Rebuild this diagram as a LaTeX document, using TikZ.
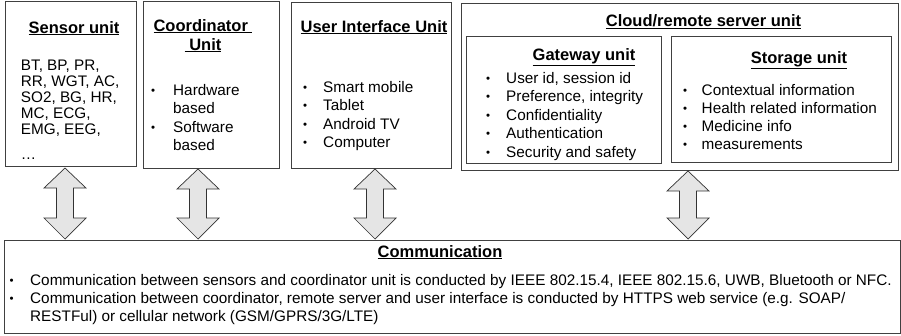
\documentclass[tikz,border=0pt]{standalone}
\usepackage{fontspec}
\setmainfont{Liberation Sans}
\usetikzlibrary{calc}
\newcommand{\bodyfont}[1]{\fontsize{15.3}{#1}\selectfont}
\newcommand{\ttl}[1]{\underline{\textbf{#1}}}
\newcommand{\bul}{\raisebox{1pt}{\fontsize{11.5}{11.5}\selectfont •}}
\tikzset{
  unitbox/.style={draw=black!75, line width=0.9pt},
  ttlnode/.style={anchor=base, inner sep=0pt, font=\fontsize{16.5}{19}\selectfont},
  listnode/.style={anchor=base west, inner sep=0pt},
  dblarrow/.style={draw=black!80, line width=0.7pt, fill=black!10},
  pics/updown/.style args={#1}{code={
    \draw[dblarrow] (0,0) -- (21,20) -- (8.5,20) -- (8.5,#1-21) -- (21,#1-21) -- (0,#1)
      -- (-21,#1-21) -- (-8.5,#1-21) -- (-8.5,20) -- (-21,20) -- cycle;
  }}
}
\begin{document}
\begin{tikzpicture}[x=1pt,y=-1pt]
\useasboundingbox (0,0) rectangle (901,335);
% boxes
\draw[unitbox] (5,1) rectangle (136,166);
\draw[unitbox] (143,1) rectangle (279,168);
\draw[unitbox] (291,2) rectangle (451,168);
\draw[unitbox] (461,3) rectangle (898,170);
\draw[unitbox] (466,36) rectangle (661,163);
\draw[unitbox] (671,36) rectangle (891,162);
\draw[unitbox] (4,240) rectangle (900.5,333);

% titles
\node[ttlnode] (tsens) at (74,33) {\ttl{Sensor unit}};
\node[ttlnode] (tcoord) at (203,31)
  {\begin{tabular}[t]{@{}c@{}}\ttl{Coordinator\ }\\\ttl{\ Unit}\end{tabular}};
\node[ttlnode] (tui) at (374,32) {\ttl{User Interface Unit}};
\node[ttlnode] (tcloud) at (703.5,26.7) {\ttl{Cloud/remote server unit}};
\node[ttlnode] (tgate) at (584,60) {\ttl{Gateway unit}};
\node[ttlnode] (tstore) at (799,63) {\ttl{Storage unit}};
\node[ttlnode] (tcomm) at (440,257) {\ttl{Communication}};

% lists
\node[listnode, font=\bodyfont{16}] (lsens) at (20.7,70.7)
  {\begin{tabular}[t]{@{}l@{}}BT, BP, PR,\\RR, WGT, AC,\\SO2, BG, HR,\\MC, ECG,\\EMG, EEG,\\[9pt]\dots\end{tabular}};
\node[listnode, font=\bodyfont{18.5}] (lcoord) at (151,95)
  {\begin{tabular}[t]{@{}p{22pt}@{}l@{}}\bul&Hardware\\&based\\\bul&Software\\&based\end{tabular}};
\node[listnode, font=\bodyfont{18.5}] (lui) at (303,92)
  {\begin{tabular}[t]{@{}p{20pt}@{}l@{}}\bul&Smart mobile\\\bul&Tablet\\\bul&Android TV\\\bul&Computer\end{tabular}};
\node[listnode, font=\bodyfont{18.5}] (lgate) at (486,83)
  {\begin{tabular}[t]{@{}p{20pt}@{}l@{}}\bul&User id, session id\\\bul&Preference, integrity\\\bul&Confidentiality\\\bul&Authentication\\\bul&Security and safety\end{tabular}};
\node[listnode, font=\bodyfont{18.3}] (lstore) at (683,95)
  {\begin{tabular}[t]{@{}p{18.5pt}@{}l@{}}\bul&Contextual information\\\bul&Health related information\\\bul&Medicine info\\\bul&measurements\end{tabular}};
\node[listnode, font=\bodyfont{18}] (lcomm) at (9.5,285)
  {\begin{tabular}[t]{@{}p{20.5pt}@{}l@{}}\bul&Communication between sensors and coordinator unit is conducted by IEEE 802.15.4, IEEE 802.15.6, UWB, Bluetooth or NFC.\\
  \bul&Communication between coordinator, remote server and user interface is conducted by HTTPS web service (e.g. SOAP/\\
  &RESTFul) or cellular network (GSM/GPRS/3G/LTE)\end{tabular}};

% double arrows
\pic at (65,168) {updown={71}};
\pic at (198,169) {updown={70}};
\pic at (375,169) {updown={70}};
\pic at (688,171) {updown={68}};
\end{tikzpicture}
\end{document}
